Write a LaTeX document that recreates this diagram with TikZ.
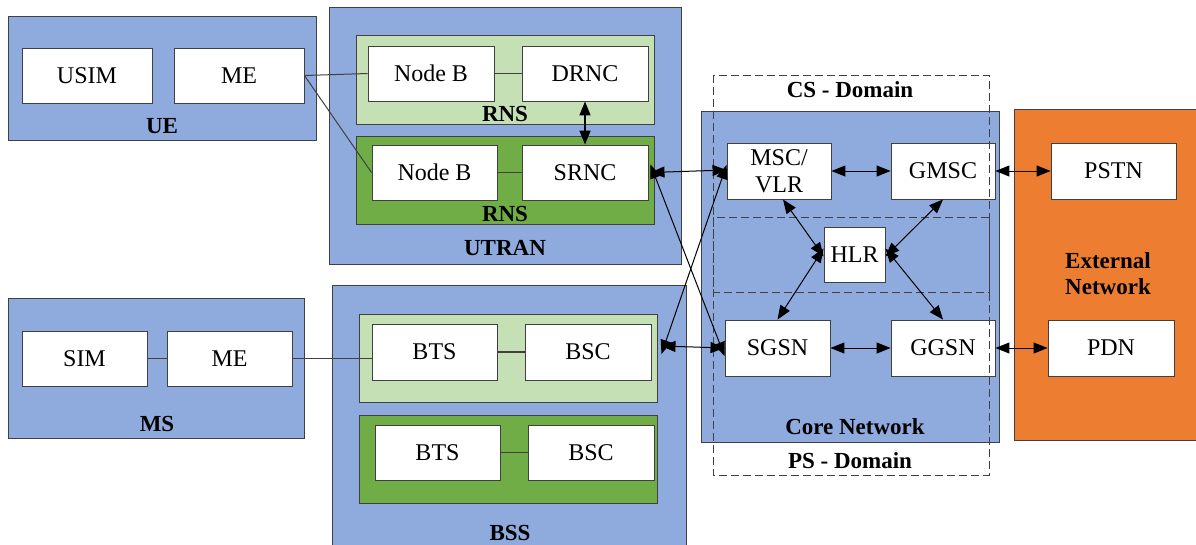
\documentclass[tikz,border=0pt]{standalone}
\usepackage{fontspec}
\setmainfont{Liberation Serif}
\usetikzlibrary{arrows.meta}
\definecolor{grpblue}{HTML}{8FAADC}
\definecolor{lgreen}{HTML}{C5E0B4}
\definecolor{dgreen}{HTML}{70AD47}
\definecolor{extorange}{HTML}{ED7D31}
\definecolor{edge}{HTML}{404040}
\tikzset{
  grp/.style={draw=edge, line width=0.9pt, inner sep=0pt},
  blue grp/.style={grp, fill=grpblue},
  lg grp/.style={grp, fill=lgreen},
  dg grp/.style={grp, fill=dgreen},
  or grp/.style={grp, fill=extorange},
  box/.style={draw=edge, fill=white, line width=0.9pt, inner sep=0pt,
    font=\fontsize{24}{25}\selectfont, align=center},
  lbl/.style={font=\fontsize{23}{26}\selectfont\bfseries, inner sep=0pt, align=center},
  domainbox/.style={draw=edge, line width=1pt, dash pattern=on 8pt off 4pt},
  link/.style={draw=black, line width=1pt},
  dbl/.style={link, {Triangle[length=14pt,width=11pt]}-{Triangle[length=14pt,width=11pt]}},
  lnk/.style={draw=edge, line width=1.2pt}
}
\begin{document}
\begin{tikzpicture}[x=1pt,y=-1pt]
\useasboundingbox (0,0) rectangle (1196,544);
% groups
\node[blue grp, minimum width=308, minimum height=124] (ue) at (162,78) {};
\node[lbl] (uel) at (162,126) {UE};
\node[blue grp, minimum width=352, minimum height=257] (utran) at (505,135.5) {};
\node[lbl] (utranl) at (505,248) {UTRAN};
\node[lg grp, minimum width=298, minimum height=89] (rns1) at (505,79.5) {};
\node[lbl] (rns1l) at (505,114) {RNS};
\node[dg grp, minimum width=298, minimum height=88] (rns2) at (505,180) {};
\node[lbl] (rns2l) at (505,214) {RNS};
\node[blue grp, minimum width=296, minimum height=140] (ms) at (156,368) {};
\node[lbl] (msl) at (157,424) {MS};
\node[blue grp, minimum width=354, minimum height=280] (bss) at (509,425) {};
\node[lbl] (bssl) at (510,533) {BSS};
\node[lg grp, minimum width=298, minimum height=88] (bss1) at (508,358) {};
\node[dg grp, minimum width=298, minimum height=88] (bss2) at (508,459) {};
\node[blue grp, minimum width=298, minimum height=331] (core) at (850,276.5) {};
\node[lbl] (corel) at (855,427) {Core Network};
\node[or grp, minimum width=182, minimum height=331] (ext) at (1105,274.5) {};
\node[lbl] (extl) at (1108,274) {External\\Network};
\node[lbl] (csl) at (850,90) {CS - Domain};
\node[lbl] (psl) at (850,461) {PS - Domain};
% boxes
\node[box, minimum width=130, minimum height=55] (usim) at (87,75.5) {USIM};
\node[box, minimum width=130, minimum height=55] (me1) at (239,75.5) {ME};
\node[box, minimum width=126, minimum height=55] (nb1) at (431,73.5) {Node B};
\node[box, minimum width=126, minimum height=55] (drnc) at (585,73.5) {DRNC};
\node[box, minimum width=125, minimum height=55] (nb2) at (434.5,172.5) {Node B};
\node[box, minimum width=126, minimum height=55] (srnc) at (585,172.5) {SRNC};
\node[box, minimum width=125, minimum height=55] (sim) at (84.5,358.5) {SIM};
\node[box, minimum width=125, minimum height=55] (me2) at (229.5,358.5) {ME};
\node[box, minimum width=125, minimum height=56] (bts1) at (434.5,352) {BTS};
\node[box, minimum width=126, minimum height=56] (bsc1) at (588,352) {BSC};
\node[box, minimum width=125, minimum height=55] (bts2) at (437.5,452.5) {BTS};
\node[box, minimum width=126, minimum height=55] (bsc2) at (591,452.5) {BSC};
\node[box, minimum width=104, minimum height=56, font=\fontsize{24}{27}\selectfont] (msc) at (779,171) {MSC/\\VLR};
\node[box, minimum width=104, minimum height=56] (gmsc) at (943,171) {GMSC};
\node[box, minimum width=61, minimum height=55] (hlr) at (854.5,254.5) {HLR};
\node[box, minimum width=105, minimum height=56] (sgsn) at (777.5,348) {SGSN};
\node[box, minimum width=104, minimum height=56] (ggsn) at (943,348) {GGSN};
\node[box, minimum width=125, minimum height=56] (pstn) at (1113.5,171) {PSTN};
\node[box, minimum width=126, minimum height=56] (pdn) at (1111,348) {PDN};
% domains
\coordinate (csa) at (713,75);
\coordinate (csb) at (989,292);
\coordinate (psa) at (713,217);
\coordinate (psb) at (989,475);
\draw[domainbox] (csa) rectangle (csb);
\draw[domainbox] (psa) rectangle (psb);
% plain links
\draw[lnk] (nb1.east) -- (drnc.west);
\draw[lnk] (nb2.east) -- (srnc.west);
\draw[lnk] (sim.east) -- (me2.west);
\draw[lnk] (bts1.east) -- (bsc1.west);
\draw[lnk] (bts2.east) -- (bsc2.west);
\draw[link, draw=edge] (me1.east) -- (nb1.west);
\draw[link, draw=edge] (me1.east) -- (nb2.west);
\draw[link, draw=edge] (me2.east) -- (bts1.west |- me2.east);
% arrows
\draw[dbl, line width=1.6pt] (drnc.south) -- (srnc.north);
\draw[dbl] ([xshift=2pt]srnc.east) -- ([yshift=1pt]msc.west);
\draw[dbl] ([xshift=2pt,yshift=8pt]srnc.east) -- ([yshift=-8pt]sgsn.west);
\draw[dbl] ([xshift=10pt,yshift=-2pt]bsc1.east) -- ([yshift=6pt]msc.west);
\draw[dbl] ([xshift=10pt,yshift=6pt]bsc1.east) -- (sgsn.west);
\draw[dbl] (msc.east) -- (gmsc.west);
\draw[dbl] (gmsc.east) -- (pstn.west);
\draw[dbl] (sgsn.east) -- (ggsn.west);
\draw[dbl] (ggsn.east) -- (pdn.west);
\draw[dbl] ([xshift=4pt]msc.south) -- ([yshift=-2pt]hlr.west);
\draw[dbl] (gmsc.south) -- ([yshift=-2pt]hlr.east);
\draw[dbl] ([yshift=6pt]hlr.west) -- (sgsn.north);
\draw[dbl] ([yshift=6pt]hlr.east) -- (ggsn.north);
\end{tikzpicture}
\end{document}
